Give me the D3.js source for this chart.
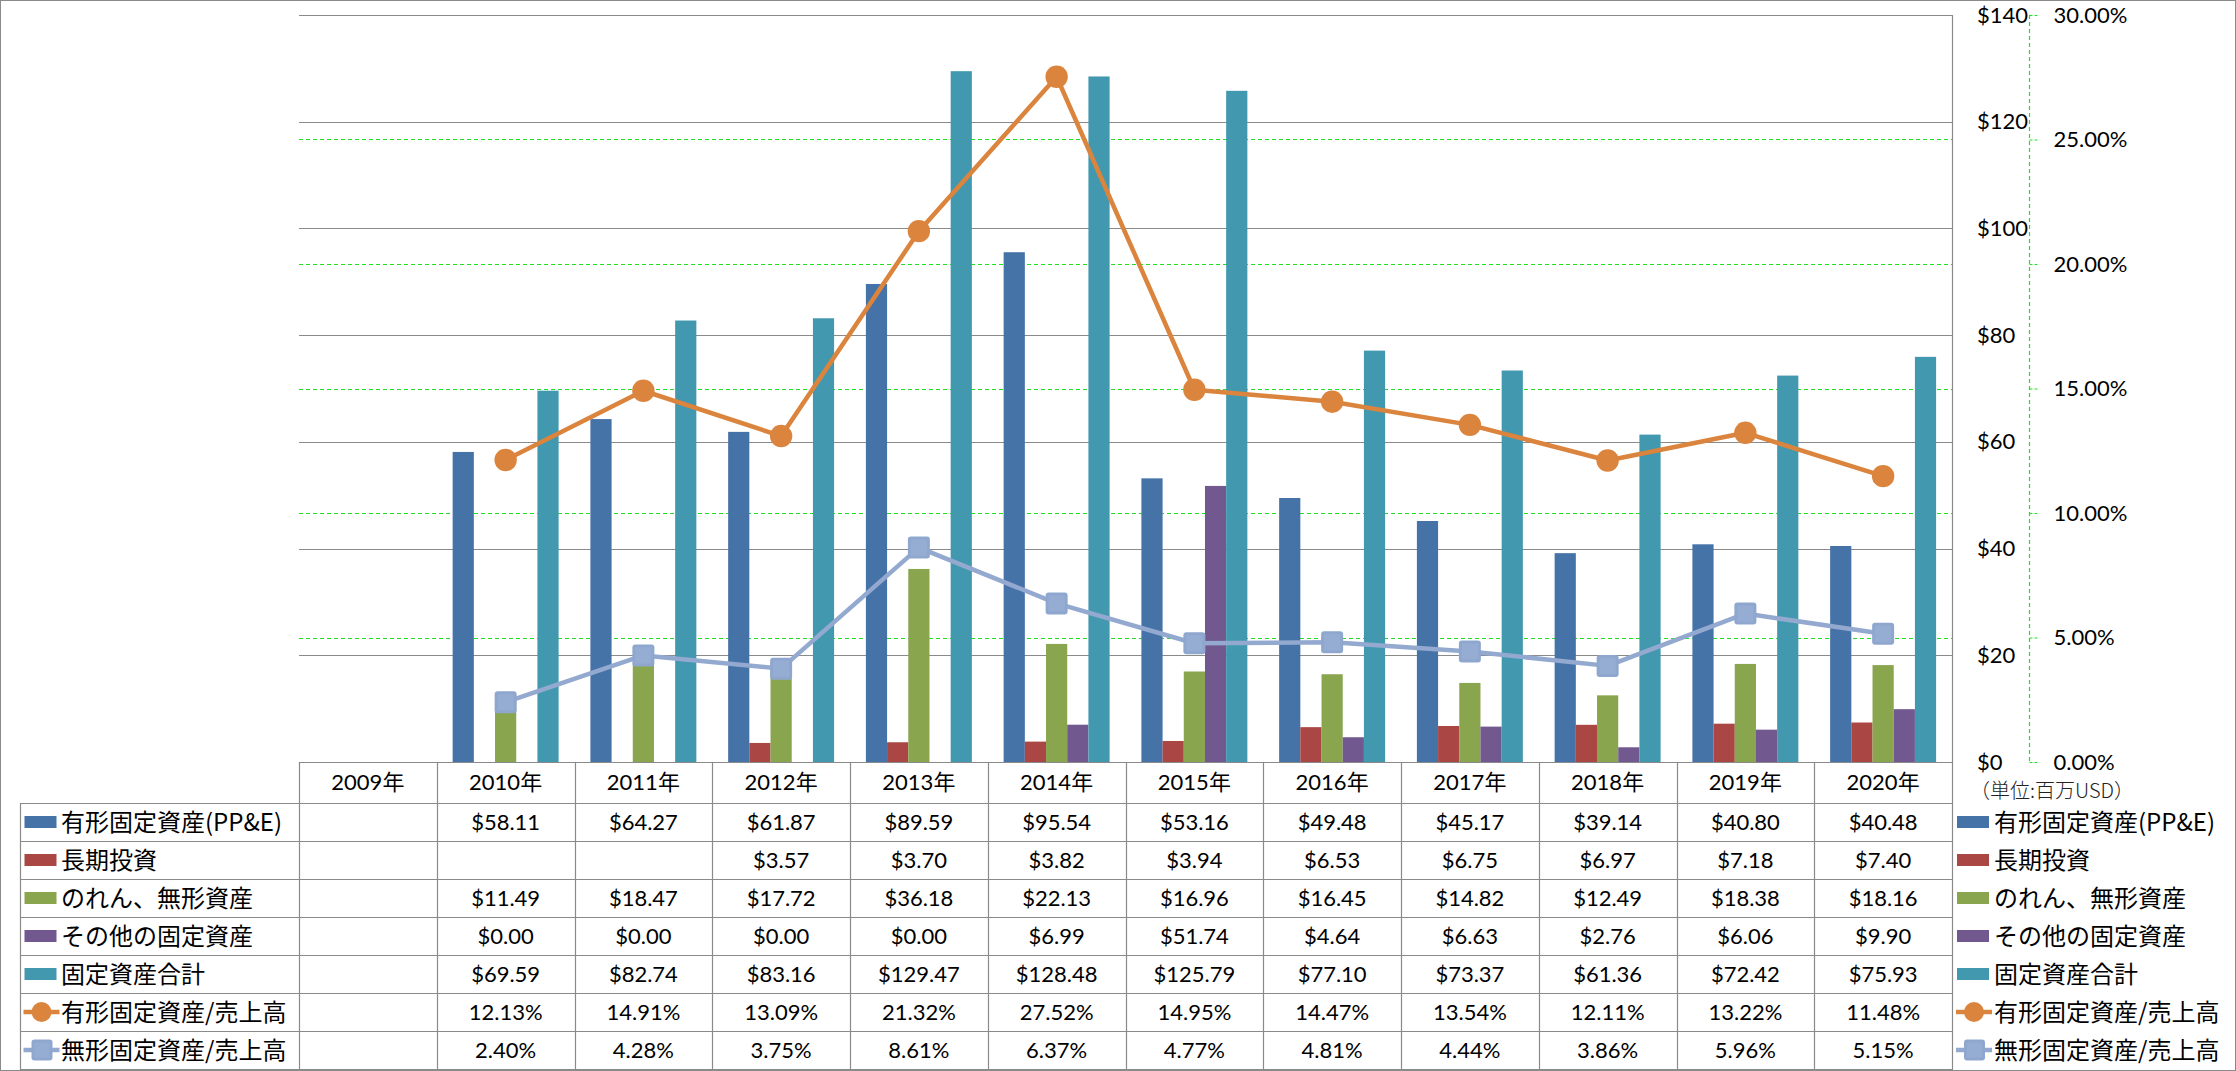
<!DOCTYPE html>
<html><head><meta charset="utf-8">
<script src="https://cdn.jsdelivr.net/npm/d3@7"></script>
<style>body{margin:0;background:#fff} svg{display:block}</style>
</head><body><svg id="c" width="2236" height="1071"></svg>
<script>
// ---- data ----
const years = ["2009年","2010年","2011年","2012年","2013年","2014年","2015年","2016年","2017年","2018年","2019年","2020年"];
const ppe      = [null,58.11,64.27,61.87,89.59,95.54,53.16,49.48,45.17,39.14,40.80,40.48];
const ltInvest = [null,null,null,3.57,3.70,3.82,3.94,6.53,6.75,6.97,7.18,7.40];
const goodwill = [null,11.49,18.47,17.72,36.18,22.13,16.96,16.45,14.82,12.49,18.38,18.16];
const otherFA  = [null,0.00,0.00,0.00,0.00,6.99,51.74,4.64,6.63,2.76,6.06,9.90];
const totalFA  = [null,69.59,82.74,83.16,129.47,128.48,125.79,77.10,73.37,61.36,72.42,75.93];
const ppeRatio = [null,12.13,14.91,13.09,21.32,27.52,14.95,14.47,13.54,12.11,13.22,11.48];
const intRatio = [null,2.40,4.28,3.75,8.61,6.37,4.77,4.81,4.44,3.86,5.96,5.15];
const leftTicks  = [0,20,40,60,80,100,120,140];
const rightTicks = [0,5,10,15,20,25,30];
const barNames = ["有形固定資産(PP&E)","長期投資","のれん、無形資産","その他の固定資産","固定資産合計"];
const lineNames = ["有形固定資産/売上高","無形固定資産/売上高"];

const barSeries = [ppe, ltInvest, goodwill, otherFA, totalFA];
const barColors = ["#4572A7","#AA4643","#89A54E","#71588F","#4198AF"];
const lineSeries = [ppeRatio, intRatio];
const lineColors = ["#DB843D","#93A9CF"];

// ---- layout ----
const W = 2236, H = 1071;
const L = 299, R = 1952, T = 15, B = 762;
const rowH = 38, headB = 803;
const tblL = 20.5;
const gridGray = "#8a8a8a", green = "#22e022";
const numFont = "Lato, 'Noto Sans CJK JP', sans-serif";
const jpFont = "'Noto Sans CJK JP', sans-serif";

const svg = d3.select("#c");
svg.append("rect").attr("x",0.5).attr("y",0.5).attr("width",W-1).attr("height",H-1)
  .attr("fill","#fff").attr("stroke",gridGray).attr("stroke-width",1);

const x = d3.scaleBand().domain(years).range([L,R]).padding(0);
const yL = d3.scaleLinear().domain([0,140]).range([B,T]);
const yR = d3.scaleLinear().domain([0,30]).range([B,T]);
const bw = x.bandwidth();
const groupW = bw*5/6.5;
const xs = d3.scaleBand().domain(d3.range(5)).range([0,groupW]).padding(0);

// gridlines
const g = svg.append("g");
g.selectAll("line.gg").data(leftTicks.filter(d=>d>0)).join("line")
  .attr("x1",L).attr("x2",R).attr("y1",d=>Math.round(yL(d))+0.5).attr("y2",d=>Math.round(yL(d))+0.5)
  .attr("stroke",gridGray).attr("stroke-width",1.2);
g.selectAll("line.gr").data(rightTicks.filter(d=>d>0 && d<30)).join("line")
  .attr("x1",L).attr("x2",R).attr("y1",d=>Math.round(yR(d))+0.5).attr("y2",d=>Math.round(yR(d))+0.5)
  .attr("stroke",green).attr("stroke-width",1.2).attr("stroke-dasharray","4,3");

// bars
barSeries.forEach((s,si)=>{
  svg.append("g").selectAll("rect").data(years.map((yr,i)=>({yr,v:s[i]})).filter(d=>d.v!=null && d.v>0))
    .join("rect")
    .attr("x",d=>x(d.yr)+bw/2-groupW/2+xs(si))
    .attr("width",xs.bandwidth())
    .attr("y",d=>yL(d.v))
    .attr("height",d=>B-yL(d.v))
    .attr("fill",barColors[si]);
});

// lines
lineSeries.forEach((s,si)=>{
  const pts = years.map((yr,i)=>({yr,v:s[i]})).filter(d=>d.v!=null);
  const line = d3.line().x(d=>x(d.yr)+bw/2).y(d=>yR(d.v));
  svg.append("path").datum(pts).attr("d",line).attr("fill","none")
    .attr("stroke",lineColors[si]).attr("stroke-width",4.5).attr("stroke-linejoin","round");
  const mg = svg.append("g");
  if(si===0){
    mg.selectAll("circle").data(pts).join("circle")
      .attr("cx",d=>x(d.yr)+bw/2).attr("cy",d=>yR(d.v)).attr("r",11.2).attr("fill",lineColors[si]);
  } else {
    mg.selectAll("rect").data(pts).join("rect")
      .attr("x",d=>x(d.yr)+bw/2-11).attr("y",d=>yR(d.v)-11).attr("width",22).attr("height",22)
      .attr("rx",3).attr("fill","#8fa7cf");
    mg.selectAll("rect.in").data(pts).join("rect").attr("class","in")
      .attr("x",d=>x(d.yr)+bw/2-8).attr("y",d=>yR(d.v)-8).attr("width",16).attr("height",16)
      .attr("fill","#96add3");
  }
});

// right primary axis
const axL = d3.axisRight(yL).tickValues(leftTicks).tickSize(0).tickPadding(25).tickFormat(d=>"$"+d);
const gaL = svg.append("g").attr("transform",`translate(${R},0)`).call(axL);
gaL.select(".domain").remove();
gaL.selectAll("text").attr("font-family",numFont).attr("font-size",22).attr("fill","#000");

// secondary axis
const axR = d3.axisRight(yR).tickValues(rightTicks).tickSize(8).tickPadding(16).tickFormat(d=>d.toFixed(2)+"%");
const gaR = svg.append("g").attr("transform",`translate(2029.5,0)`).call(axR);
gaR.select(".domain").attr("stroke",green).attr("stroke-width",1.2).attr("stroke-dasharray","4,3").attr("d",`M0,${T}V${B}`);
gaR.selectAll(".tick line").attr("stroke",green).attr("stroke-width",1.2).attr("stroke-dasharray","3,2");
gaR.selectAll("text").attr("font-family",numFont).attr("font-size",22).attr("fill","#000");

// unit label
svg.append("text").attr("x",1970).attr("y",798).attr("font-family",jpFont).attr("font-weight",300)
  .attr("font-size",20).attr("fill","#222").text("（単位:百万USD）");

// ---- data table ----
const tg = svg.append("g");
tg.append("line").attr("x1",L).attr("x2",R).attr("y1",B+0.5).attr("y2",B+0.5).attr("stroke",gridGray).attr("stroke-width",1.2);
const vx = years.map(yr=>x(yr)).concat([R]);
tg.selectAll("line.v").data(vx).join("line")
  .attr("x1",d=>Math.round(d)+0.5).attr("x2",d=>Math.round(d)+0.5)
  .attr("y1",(d,i)=> i===vx.length-1 ? T : B).attr("y2",H-1)
  .attr("stroke",gridGray).attr("stroke-width",1.2);
tg.append("line").attr("x1",tblL).attr("x2",tblL).attr("y1",headB).attr("y2",H-1).attr("stroke",gridGray).attr("stroke-width",1.2);
const rowsY = d3.range(8).map(i=>headB+i*rowH);
tg.selectAll("line.h").data(rowsY).join("line")
  .attr("x1",tblL).attr("x2",R).attr("y1",d=>Math.round(d)+0.5).attr("y2",d=>Math.round(d)+0.5)
  .attr("stroke",gridGray).attr("stroke-width",1.2);

tg.selectAll("text.yr").data(years).join("text")
  .attr("x",d=>x(d)+bw/2).attr("y",(B+headB)/2).attr("dy","0.36em")
  .attr("text-anchor","middle").attr("font-family",numFont).attr("font-size",22).attr("fill","#000").text(d=>d);

const allSeries = barSeries.concat(lineSeries);
const allNames = barNames.concat(lineNames);
const allColors = barColors.concat(lineColors);
allSeries.forEach((s,ri)=>{
  const cy = headB + ri*rowH + rowH/2;
  const isLine = ri>=5;
  tg.selectAll(null).data(years.map((yr,i)=>({yr,v:s[i]})).filter(d=>d.v!=null)).join("text")
    .attr("x",d=>x(d.yr)+bw/2).attr("y",cy).attr("dy","0.36em").attr("text-anchor","middle")
    .attr("font-family",numFont).attr("font-size",22).attr("fill","#000")
    .text(d=> isLine ? d.v.toFixed(2)+"%" : "$"+d.v.toFixed(2));
  [[tblL+4, 61],[1957, 1994]].forEach(([kx,tx])=>{
    if(!isLine){
      tg.append("rect").attr("x",kx).attr("y",cy-6).attr("width",32).attr("height",12).attr("fill",allColors[ri]);
    } else {
      tg.append("line").attr("x1",kx-1).attr("x2",kx+35).attr("y1",cy).attr("y2",cy)
        .attr("stroke",allColors[ri]).attr("stroke-width",4.5);
      if(ri===5){
        tg.append("circle").attr("cx",kx+17).attr("cy",cy).attr("r",10).attr("fill",allColors[ri]);
      } else {
        tg.append("rect").attr("x",kx+7).attr("y",cy-10.5).attr("width",21).attr("height",21).attr("rx",3).attr("fill","#8fa7cf");
        tg.append("rect").attr("x",kx+10).attr("y",cy-7.5).attr("width",15).attr("height",15).attr("fill","#96add3");
      }
    }
    tg.append("text").attr("x",tx).attr("y",cy).attr("dy","0.36em").attr("font-family",jpFont)
      .attr("font-size",24).attr("fill","#000").text(allNames[ri]);
  });
});
</script></body></html>
